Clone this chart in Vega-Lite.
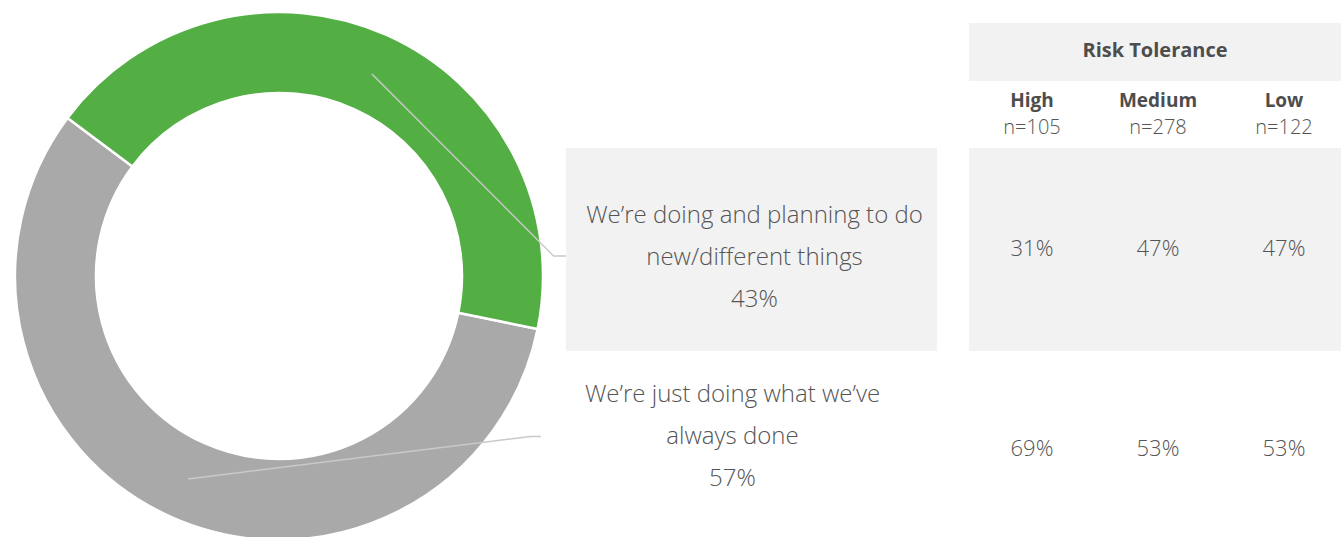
{
  "$schema": "https://vega.github.io/schema/vega-lite/v6.json",
  "background": "white",
  "padding": 0,
  "bounds": "flush",
  "config": {"view": {"stroke": null}, "font": "Open Sans"},
  "datasets": {
    "overall": [
      {"key": "same", "answer": "We’re just doing what we’ve always done", "lines": ["We’re just doing what we’ve", "always done", "57%"], "share": 0.57},
      {"key": "new", "answer": "We’re doing and planning to do new/different things", "lines": ["We’re doing and planning to do", "new/different things", "43%"], "share": 0.43}
    ],
    "leaders": [
      {"key": "new", "pt": 1, "lx": 0.352, "ly": 0.765},
      {"key": "new", "pt": 2, "lx": 1.040, "ly": 0.076},
      {"key": "new", "pt": 3, "lx": 1.087, "ly": 0.076},
      {"key": "same", "pt": 1, "lx": -0.345, "ly": -0.769},
      {"key": "same", "pt": 2, "lx": 0.953, "ly": -0.608},
      {"key": "same", "pt": 3, "lx": 0.992, "ly": -0.608}
    ],
    "byRisk": [
      {"key": "new", "risk": "High", "nLabel": "n=105", "pct": 0.31},
      {"key": "new", "risk": "Medium", "nLabel": "n=278", "pct": 0.47},
      {"key": "new", "risk": "Low", "nLabel": "n=122", "pct": 0.47},
      {"key": "same", "risk": "High", "nLabel": "n=105", "pct": 0.69},
      {"key": "same", "risk": "Medium", "nLabel": "n=278", "pct": 0.53},
      {"key": "same", "risk": "Low", "nLabel": "n=122", "pct": 0.53}
    ]
  },
  "spacing": 8,
  "hconcat": [
    {
      "width": 558,
      "height": 552,
      "layer": [
        {
          "data": {"name": "overall"},
          "mark": {"type": "arc", "innerRadius": 183, "outerRadius": 264, "stroke": "white", "strokeWidth": 2.5},
          "encoding": {
            "theta": {"field": "share", "type": "quantitative", "stack": true, "scale": {"range": [1.773, 8.056]}},
            "color": {"field": "key", "type": "nominal", "scale": {"domain": ["same", "new"], "range": ["#a9a9a9", "#53ae43"]}, "legend": null},
            "order": {"field": "key", "type": "nominal", "sort": "descending"}
          }
        },
        {
          "data": {"name": "leaders"},
          "mark": {"type": "line", "color": "#c9c9c9", "strokeWidth": 1.5},
          "encoding": {
            "x": {"field": "lx", "type": "quantitative", "scale": {"domain": [-1.0568, 1.0568], "nice": false, "zero": false}, "axis": null},
            "y": {"field": "ly", "type": "quantitative", "scale": {"domain": [-1.0455, 1.0455], "nice": false, "zero": false}, "axis": null},
            "detail": {"field": "key", "type": "nominal"},
            "order": {"field": "pt", "type": "quantitative"}
          }
        }
      ]
    },
    {
      "spacing": 32,
      "hconcat": [
        {
          "spacing": 0,
          "vconcat": [
            {"width": 371, "height": 148, "data": {"values": [{}]}, "mark": {"type": "text", "text": ""}},
            {
              "width": 371, "height": 203,
              "data": {"name": "overall"},
              "transform": [{"filter": "datum.key === 'new'"}],
              "layer": [
                {"mark": {"type": "rect", "color": "#f2f2f2"}, "encoding": {"x": {"value": 0}, "x2": {"value": "width"}, "y": {"value": 0}, "y2": {"value": "height"}}},
                {
                  "mark": {"type": "text", "fontSize": 24, "fontWeight": 300, "color": "#555555", "lineHeight": 42, "align": "center", "baseline": "middle", "dx": 3, "dy": -34},
                  "encoding": {
                    "x": {"datum": "c", "type": "nominal", "axis": null},
                    "y": {"datum": "c", "type": "nominal", "axis": null},
                    "text": {"field": "lines"}
                  }
                }
              ]
            },
            {
              "width": 371, "height": 186,
              "data": {"name": "overall"},
              "transform": [{"filter": "datum.key === 'same'"}],
              "mark": {"type": "text", "fontSize": 24, "fontWeight": 300, "color": "#555555", "lineHeight": 42, "align": "center", "baseline": "middle", "dx": -19, "dy": -49},
              "encoding": {
                "x": {"datum": "c", "type": "nominal", "axis": null},
                "y": {"datum": "c", "type": "nominal", "axis": null},
                "text": {"field": "lines"}
              }
            }
          ]
        },
        {
          "spacing": 0,
          "vconcat": [
            {"width": 372, "height": 23, "data": {"values": [{}]}, "mark": {"type": "text", "text": ""}},
            {
              "width": 372, "height": 58,
              "data": {"values": [{"title": "Risk Tolerance"}]},
              "layer": [
                {"mark": {"type": "rect", "color": "#f2f2f2"}, "encoding": {"x": {"value": 0}, "x2": {"value": "width"}, "y": {"value": 0}, "y2": {"value": "height"}}},
                {
                  "mark": {"type": "text", "fontSize": 20, "fontWeight": "bold", "color": "#4d4d4d", "align": "center", "baseline": "middle", "dy": -1},
                  "encoding": {
                    "x": {"datum": "c", "type": "nominal", "axis": null},
                    "y": {"datum": "c", "type": "nominal", "axis": null},
                    "text": {"field": "title"}
                  }
                }
              ]
            },
            {
              "width": 372, "height": 67,
              "data": {"name": "byRisk"},
              "transform": [{"filter": "datum.key === 'new'"}],
              "layer": [
                {
                  "mark": {"type": "text", "fontSize": 19, "fontWeight": "bold", "color": "#4d4d4d", "align": "center", "baseline": "middle"},
                  "encoding": {
                    "x": {"field": "risk", "type": "nominal", "sort": ["High", "Medium", "Low"], "scale": {"type": "point", "padding": 0.5, "range": [0, 378]}, "axis": null},
                    "y": {"datum": "name", "type": "nominal", "scale": {"type": "point", "domain": ["name", "n"], "padding": 0.77}, "axis": null},
                    "text": {"field": "risk"}
                  }
                },
                {
                  "mark": {"type": "text", "fontSize": 20, "fontWeight": 300, "color": "#555555", "align": "center", "baseline": "middle"},
                  "encoding": {
                    "x": {"field": "risk", "type": "nominal", "sort": ["High", "Medium", "Low"], "scale": {"type": "point", "padding": 0.5, "range": [0, 378]}, "axis": null},
                    "y": {"datum": "n", "type": "nominal", "axis": null},
                    "text": {"field": "nLabel"}
                  }
                }
              ]
            },
            {
              "width": 372, "height": 203,
              "data": {"name": "byRisk"},
              "transform": [{"filter": "datum.key === 'new'"}],
              "layer": [
                {"mark": {"type": "rect", "color": "#f2f2f2"}, "encoding": {"x": {"value": 0}, "x2": {"value": "width"}, "y": {"value": 0}, "y2": {"value": "height"}}},
                {
                  "mark": {"type": "text", "fontSize": 22, "fontWeight": 300, "color": "#555555", "align": "center", "baseline": "middle", "dy": -1},
                  "encoding": {
                    "x": {"field": "risk", "type": "nominal", "sort": ["High", "Medium", "Low"], "scale": {"type": "point", "padding": 0.5, "range": [0, 378]}, "axis": null},
                    "y": {"datum": "c", "type": "nominal", "axis": null},
                    "text": {"field": "pct", "type": "quantitative", "format": ".0%"}
                  }
                }
              ]
            },
            {
              "width": 372, "height": 186,
              "data": {"name": "byRisk"},
              "transform": [{"filter": "datum.key === 'same'"}],
              "mark": {"type": "text", "fontSize": 22, "fontWeight": 300, "color": "#555555", "align": "center", "baseline": "middle", "dy": 5},
              "encoding": {
                "x": {"field": "risk", "type": "nominal", "sort": ["High", "Medium", "Low"], "scale": {"type": "point", "padding": 0.5, "range": [0, 378]}, "axis": null},
                "y": {"datum": "c", "type": "nominal", "axis": null},
                "text": {"field": "pct", "type": "quantitative", "format": ".0%"}
              }
            }
          ]
        }
      ]
    }
  ]
}
